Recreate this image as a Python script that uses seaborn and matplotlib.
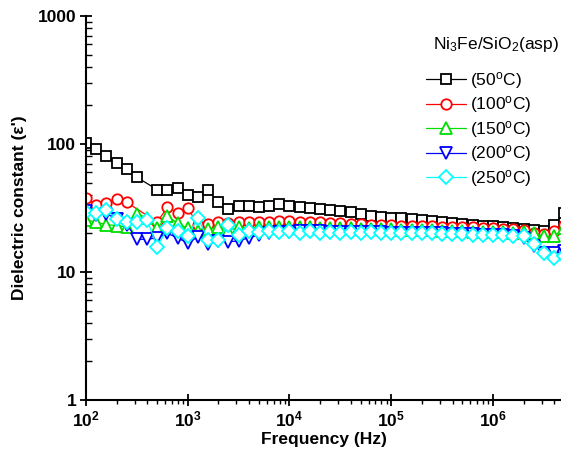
import numpy as np
import pandas as pd
import matplotlib
matplotlib.use("Agg")
import matplotlib.pyplot as plt
from matplotlib.ticker import FixedLocator, FuncFormatter, LogLocator, NullFormatter
import seaborn as sns

freq = [100, 126, 158, 200, 251, 316, 398, 501, 631, 794,
        1000, 1259, 1585, 1995, 2512, 3162, 3981, 5012, 6310, 7943,
        1e4, 12589, 15849, 19953, 25119, 31623, 39811, 50119, 63096, 79433,
        1e5, 125893, 158489, 199526, 251189, 316228, 398107, 501187, 630957, 794328,
        1e6, 1258925, 1584893, 1995262, 2511886, 3162278, 3981072, 5011872]

eps_50 = [102, 91, 81, 71, 64, 55, np.nan, 44, 44, 45,
          40, 38.5, 43.5, 35, 31, 33, 32.5, 32, 33, 34,
          32.5, 32, 31.5, 31, 30.5, 30, 29.4, 28.4, 27.6, 27,
          26.6, 26.3, 26, 25.6, 25.2, 24.7, 24.2, 23.8, 23.4, 23,
          22.7, 22.4, 22.1, 21.8, 21.4, 21, 23.5, 29]
eps_100 = [38, 33.5, 34.5, 37, 35, np.nan, np.nan, 24.6, 32, 29,
           31.6, 23.5, 23.8, 24.6, 24.2, 24.6, 24.4, 24.6, 24.8, 25,
           25, 24.8, 24.6, 24.4, 24.2, 24, 23.8, 23.6, 23.4, 23.3,
           23.2, 23, 22.9, 22.8, 22.7, 22.6, 22.5, 22.4, 22.3, 22.2,
           22, 21.8, 21.6, 21.3, 20.3, 19.8, 21, 23.5]
eps_150 = [25.5, 24.5, 23.5, 23, 22.5, 28.5, 26.5, 22, 27.5, 24,
           22, 21, 21.5, 22.5, 21, 22.5, 22, 22.5, 22.3, 22.5,
           22.4, 22.5, 22.3, 22.2, 22.1, 22, 21.9, 21.8, 21.7, 21.6,
           21.5, 21.4, 21.3, 21.2, 21.1, 21, 20.9, 20.8, 20.7, 20.6,
           20.5, 20.4, 20.3, 20.5, 20, 19, 19, 22]
eps_200 = [30, 28, 28.5, 26, 23.5, 18, 18, 18.5, 20, 18.5,
           16.8, 18.8, 16.5, 17.5, 17.2, 17.5, 18.5, 19.5, 20, 20.5,
           20.5, 20.8, 20.8, 20.8, 20.7, 20.7, 20.6, 20.5, 20.5, 20.4,
           20.3, 20.2, 20.2, 20.1, 20, 20, 19.9, 19.8, 19.7, 19.6,
           19.5, 19.4, 19.2, 18.5, 16, 14.2, 14, 14.5]
eps_250 = [29.5, 29, 30.5, 26, 24.8, 24.4, 25.5, 15.8, 22, 21,
           19, 26.6, 17.8, 17.8, 23.4, 19.4, 21, 20.5, 21, 20.5,
           21, 20.2, 21, 20.2, 20.5, 20.3, 20.5, 20.2, 20.4, 20.1,
           20.3, 20.1, 20.2, 20, 20, 19.9, 19.8, 19.7, 19.6, 19.5,
           19.4, 19.3, 19.2, 19, 16.5, 14.2, 12.8, 13.3]

labels = [r"(50$^{\rm o}$C)", r"(100$^{\rm o}$C)", r"(150$^{\rm o}$C)",
          r"(200$^{\rm o}$C)", r"(250$^{\rm o}$C)"]
legend_title = r"Ni$_{\rm 3}$Fe/SiO$_{\rm 2}$(asp)"
series = [eps_50, eps_100, eps_150, eps_200, eps_250]
colors = ["#000000", "#FF0000", "#00DD00", "#0000FF", "#00FFFF"]
markers = ["s", "o", "^", "v", "D"]
msizes = [7, 7.5, 8, 8, 7.5]

ytick_vals = [1, 10, 100, 1000]
xtick_vals = [1e2, 1e3, 1e4, 1e5, 1e6]

sns.set_theme(style="ticks")
plt.rcParams["font.family"] = ["Liberation Sans", "DejaVu Sans"]
plt.rcParams["mathtext.fontset"] = "custom"
plt.rcParams["mathtext.rm"] = "Liberation Sans"
plt.rcParams["mathtext.it"] = "Liberation Sans:italic"
plt.rcParams["mathtext.bf"] = "Liberation Sans:bold"
for k in ["text.color", "axes.labelcolor", "xtick.color", "ytick.color", "axes.edgecolor"]:
    plt.rcParams[k] = "black"

fig = plt.figure(figsize=(5.61, 4.61), dpi=100)
ax = fig.add_axes([86 / 561, 61 / 461, 475 / 561, 384 / 461])
ax.set_xscale("log")
ax.set_yscale("log")

for vals, lab, col, mk, ms in zip(series, labels, colors, markers, msizes):
    df = pd.DataFrame({"f": freq, "e": vals})
    sns.lineplot(data=df, x="f", y="e", ax=ax, estimator=None, sort=False,
                 color=col, marker=mk, markersize=ms, mfc="white", mec=col,
                 mew=1.3, lw=0.9, label=lab, legend=False)

for line in ax.lines:
    line.set_markerfacecolor("white")
    line.set_markeredgecolor(line.get_color())

ax.set_xlim(100, 4.66e6)
ax.set_ylim(1, 1000)

ax.yaxis.set_major_locator(FixedLocator(ytick_vals))
ax.yaxis.set_major_formatter(FuncFormatter(lambda v, p: f"{int(round(v))}"))
ax.yaxis.set_minor_locator(LogLocator(base=10, subs=np.arange(2, 10), numticks=20))
ax.yaxis.set_minor_formatter(NullFormatter())
ax.xaxis.set_major_locator(FixedLocator(xtick_vals))
ax.xaxis.set_major_formatter(FuncFormatter(lambda v, p: r"$\mathbf{10^{%d}}$" % int(round(np.log10(v)))))
ax.xaxis.set_minor_locator(LogLocator(base=10, subs=np.arange(2, 10), numticks=20))
ax.xaxis.set_minor_formatter(NullFormatter())

for s in ["top", "right"]:
    ax.spines[s].set_visible(False)
for s in ["left", "bottom"]:
    ax.spines[s].set_linewidth(1.5)
    ax.spines[s].set_color("black")

ax.tick_params(axis="both", which="major", direction="inout", length=8, width=1.3,
               colors="black", labelsize=12.5, pad=3)
ax.tick_params(axis="y", which="minor", direction="in", length=4, width=1.0, colors="black")
ax.tick_params(axis="x", which="minor", direction="out", length=3, width=1.0, colors="black")
for t in ax.get_yticklabels():
    t.set_fontweight("bold")

ax.set_xlabel("Frequency (Hz)", fontsize=12.5, fontweight="bold", labelpad=2)
ax.set_ylabel("Dielectric constant (\u03b5')", fontsize=12.5, fontweight="bold", labelpad=8)

fig.text(433 / 561, 1 - 45 / 461, legend_title, fontsize=12.5, ha="left", va="center")

handles = ax.lines[:5]
leg = fig.legend(handles, labels, loc="upper left", bbox_to_anchor=(426 / 561, 1 - 70 / 461),
                 frameon=False, fontsize=12.5, handlelength=2.3, handletextpad=0.25,
                 labelspacing=0.2, borderpad=0.0, borderaxespad=0)

fig.savefig("out.png", dpi=100)
